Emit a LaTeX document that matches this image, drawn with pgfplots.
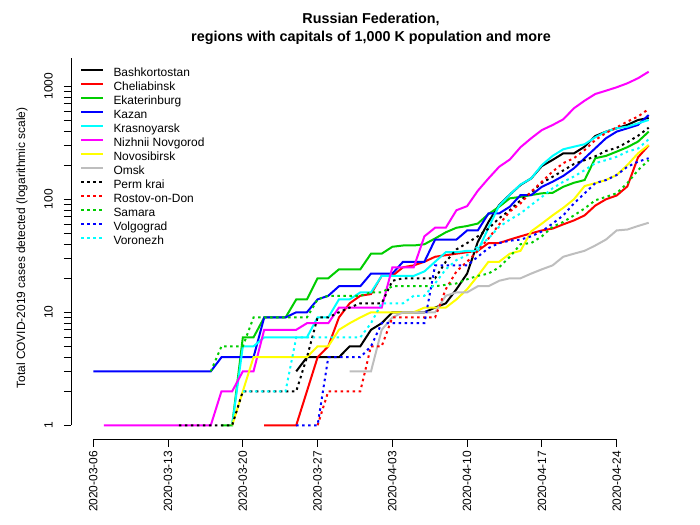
\documentclass[border=0pt]{standalone}
\usepackage{pgfplots}
\pgfplotsset{compat=1.18}
\usepackage{fontspec}
\setmainfont{Liberation Sans}
\definecolor{rgreen}{HTML}{00CD00}
\definecolor{rgray}{HTML}{BEBEBE}
\definecolor{rcyan}{HTML}{00FFFF}
\definecolor{rmag}{HTML}{FF00FF}
\definecolor{ryel}{HTML}{FFFF00}
\definecolor{rblue}{HTML}{0000FF}
\definecolor{rred}{HTML}{FF0000}
\begin{document}
\begin{tikzpicture}[x=1bp,y=1bp]
\path[use as bounding box] (0,0) rectangle (700,525);
\begin{axis}[
  at={(71.1bp,85.6bp)}, anchor=south west,
  scale only axis, width=599.8bp, height=381.8bp,
  ymode=log, xmin=-2.08, xmax=54.08, ymin=0.75, ymax=1795,
  axis lines*=left, axis line style={draw=none},
  tick align=outside, major tick length=7.2bp, minor tick length=7.2bp,
  every tick/.style={line width=0.8bp, black},
  every minor tick/.style={line width=0.8bp, black},
  xtick={0,7,...,49},
  xticklabels={2020-03-06,2020-03-13,2020-03-20,2020-03-27,2020-04-03,2020-04-10,2020-04-17,2020-04-24},
  xticklabel style={rotate=90, anchor=east, inner sep=0pt, font=\fontsize{12}{14}\selectfont},
  xticklabel shift=4bp,
  ytick={1,10,100,1000}, yticklabels={1,10,100,1000},
  minor ytick={2,3,...,9,20,30,...,90,200,300,...,900},
  yticklabel style={rotate=90, anchor=south, inner sep=0pt, font=\fontsize{12}{14}\selectfont},
  yticklabel shift=11bp,
  clip=false,
  legend style={at={(0,1)}, anchor=north west, draw=none, fill=none, inner sep=0pt,
    xshift=8.9bp, yshift=-9.7bp, font=\fontsize{12}{14}\selectfont,
    row sep=0pt, column sep=0pt,
    nodes={inner sep=0pt, text height=9.5bp, text depth=4.44bp}},
  legend cell align=left,
  legend image code/.code={\draw[#1] (0bp,4bp) -- (22bp,4bp); \path (31.3bp,0bp);},
  sol/.style={line width=2bp},
  dsh/.style={line width=2bp, dash pattern=on 2.5bp off 3.5bp},
]
% Bashkortostan
\addplot[sol, black] table {
19 3
20 4
21 4
22 4
23 4
24 5
25 5
26 7
27 8
28 10
29 10
30 10
31 10
32 11
33 12
34 16
35 22
36 42
37 63
38 89
39 110
40 134
41 153
42 197
43 223
44 255
45 255
46 292
47 363
48 397
49 425
50 455
51 503
52 525
};
\addlegendentry{Bashkortostan}
% Cheliabinsk
\addplot[sol, rred] table {
16 1
17 1
18 1
19 1
20 2
21 4
22 5
23 9
24 12
25 14
26 14.5
27 21
28 21
29 25
30 26
31 28
32 31
33 32
34 33
35 34
36 35
37 41
38 41
39 44
40 47
41 50
42 53
43 55
44 60
45 65
46 72
47 88
48 100
49 108
50 130
51 235
52 300
};
\addlegendentry{Cheliabinsk}
% Ekaterinburg
\addplot[sol, rgreen] table {
12 1
13 1
14 6
15 6
16 9
17 9
18 9
19 13
20 13
21 20
22 20
23 24
24 24
25 24
26 33
27 33
28 38
29 39
30 39
31 40
32 45
33 51
34 56
35 58
36 61
37 74
38 86
39 102
40 105
41 109
42 113
43 114
44 129
45 140
46 148
47 231
48 242
49 264
50 289
51 324
52 397
};
\addlegendentry{Ekaterinburg}
% Kazan
\addplot[sol, rblue] table {
0 3
1 3
2 3
3 3
4 3
5 3
6 3
7 3
8 3
9 3
10 3
11 3
12 4
13 4
14 4
15 4
16 9
17 9
18 9
19 10
20 10
21 13
22 14
23 17
24 17
25 17
26 22
27 22
28 22
29 28
30 28
31 28
32 44
33 44
34 44
35 53
36 53
37 75
38 75
39 86
40 109
41 109
42 129
43 143
44 161
45 188
46 231
47 283
48 347
49 397
50 425
51 455
52 557
};
\addlegendentry{Kazan}
% Krasnoyarsk
\addplot[sol, rcyan] table {
13 1
14 5
15 5
16 6
17 6
18 6
19 6
20 6
21 9
22 9
23 13
24 13
25 15
26 15
27 21
28 21
29 21
30 21
31 23
32 28
33 34
34 34
35 35
36 35
37 56
38 88
39 110
40 135
41 153
42 201
43 242
44 277
45 292
46 307
47 354
48 397
49 425
50 439
51 470
52 503
};
\addlegendentry{Krasnoyarsk}
% Nizhnii Novgorod
\addplot[sol, rmag] table {
1 1
2 1
3 1
4 1
5 1
6 1
7 1
8 1
9 1
10 1
11 1
12 2
13 2
14 3
15 3
16 7
17 7
18 7
19 7
20 8
21 8
22 8
23 11
24 11
25 11
26 11
27 11
28 25
29 25
30 25
31 47
32 56
33 56
34 80
35 87
36 119
37 153
38 194
39 225
40 289
41 347
42 410
43 454
44 510
45 639
46 746
47 855
48 914
49 980
50 1063
51 1178
52 1346
};
\addlegendentry{Nizhnii Novgorod}
% Novosibirsk
\addplot[sol, ryel] table {
13 1
14 2
15 4
16 4
17 4
18 4
19 4
20 4
21 5
22 5
23 7
24 8
25 9
26 10
27 10
28 10
29 10
30 10
31 11
32 11
33 11
34 13
35 16
36 21
37 28
38 28
39 33
40 35
41 52
42 61
43 72
44 84
45 100
46 131
47 139
48 148
49 164
50 201
51 255
52 302
};
\addlegendentry{Novosibirsk}
% Omsk
\addplot[sol, rgray] table {
24 3
25 3
26 3
27 7
28 9
29 10
30 10
31 10
32 10
33 14
34 15
35 15
36 17
37 17
38 19
39 20
40 20
41 22
42 24
43 26
44 31
45 33
46 35
47 39
48 44
49 53
50 54
51 58
52 62
};
\addlegendentry{Omsk}
% Perm krai
\addplot[dsh, black] table {
8 1
9 1
10 1
11 1
12 1
13 1
14 2
15 2
16 2
17 2
18 2
19 2
20 4
21 9
22 9
23 10
24 11
25 12
26 12
27 12
28 19
29 20
30 20
31 20
32 20
33 28
34 36
35 41
36 47
37 55
38 68
39 80
40 98
41 115
42 140
43 158
44 180
45 205
46 222
47 240
48 268
49 285
50 320
51 365
52 430
};
\addlegendentry{Perm krai}
% Rostov-on-Don
\addplot[dsh, rred] table {
21 1
22 2
23 2
24 2
25 2
26 5
27 5
28 9
29 9
30 9
31 9
32 9
33 16
34 23
35 28
36 35
37 45
38 60
39 78
40 92
41 117
42 143
43 176
44 209
45 231
46 273
47 334
48 387
49 433
50 487
51 540
52 630
};
\addlegendentry{Rostov-on-Don}
% Samara
\addplot[dsh, rgreen] table {
11 3
12 5
13 5
14 5
15 9
16 9
17 9
18 9
19 9
20 9
21 13
22 14
23 14
24 14
25 14
26 15
27 15
28 17
29 17
30 17
31 17
32 17
33 17.5
34 18
35 19.6
36 21
37 22
38 25
39 31
40 40
41 41
42 47
43 57
44 63
45 72
46 83
47 98
48 105
49 113
50 139
51 181
52 222
};
\addlegendentry{Samara}
% Volgograd
\addplot[dsh, rblue] table {
19 1
20 1
21 1
22 4
23 4
24 4
25 4
26 5
27 8
28 8
29 8
30 8
31 8
32 26
33 26
34 26
35 26
36 31
37 37
38 41
39 43
40 44
41 47
42 52
43 61
44 72
45 92
46 113
47 139
48 148
49 164
50 194
51 215
52 231
};
\addlegendentry{Volgograd}
% Voronezh
\addplot[dsh, rcyan] table {
14 2
15 2
16 2
17 2
18 2
19 6
20 6
21 6
22 6
23 6
24 6
25 6
26 8
27 12
28 12
29 12
30 14
31 14
32 18
33 24
34 29
35 32
36 38
37 45
38 57
39 66
40 75
41 89
42 105
43 125
44 143
45 159
46 181
47 209
48 222
49 238
50 264
51 281
52 340
};
\addlegendentry{Voronezh}
\draw[line width=0.8bp] (axis cs:0,0.75) -- (axis cs:49,0.75);
\draw[line width=0.8bp] (axis cs:-2.08,1) -- (axis cs:-2.08,1795);
\end{axis}
\node[font=\bfseries\fontsize{14.4}{17}\selectfont] at (371,525-19) {Russian Federation,};
\node[font=\bfseries\fontsize{14.4}{17}\selectfont] at (371,525-38) {regions with capitals of 1,000 K population and more};
\node[rotate=90, font=\fontsize{12}{14}\selectfont] at (22,525-248) {Total COVID-2019 cases detected (logarithmic scale)};
\end{tikzpicture}
\end{document}
